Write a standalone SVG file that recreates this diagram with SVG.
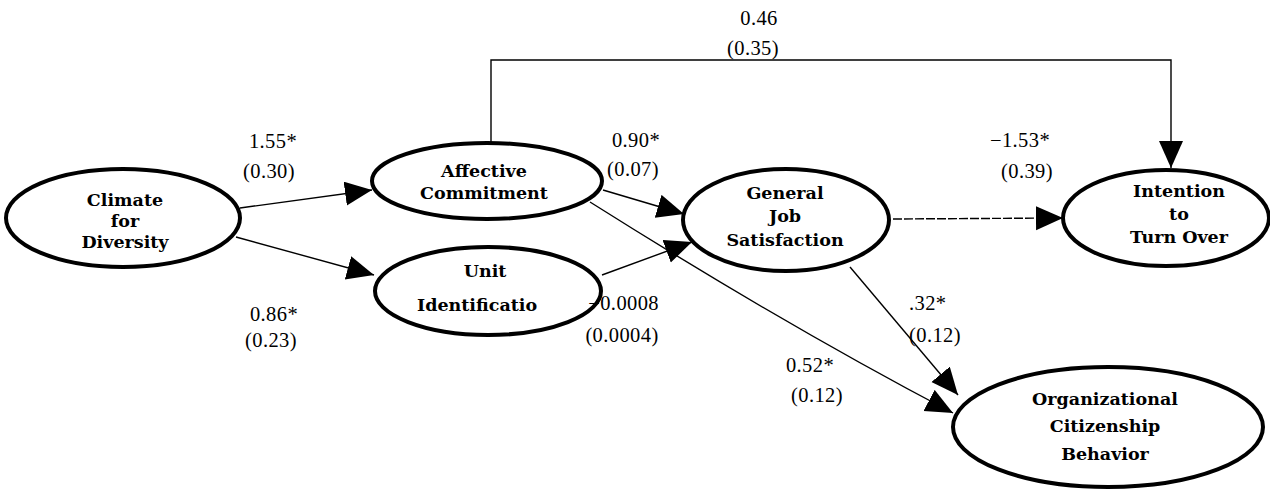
<svg xmlns="http://www.w3.org/2000/svg" width="1270" height="490" viewBox="0 0 1270 490">
<style>
.node{fill:#fff;stroke:#000;stroke-width:4}
.nt{font-family:"DejaVu Serif","Liberation Serif",serif;font-weight:bold;font-size:17.5px;text-anchor:middle;fill:#000}
.lb{font-family:"Liberation Serif","Times New Roman",serif;font-size:20.5px;letter-spacing:0.4px;text-anchor:middle;fill:#000}
.cn{fill:none;stroke:#000;stroke-width:1.4}
.dash{stroke-dasharray:9 2}
</style>
<defs>
<marker id="ah" markerUnits="userSpaceOnUse" markerWidth="28" markerHeight="26" refX="27" refY="12" orient="auto">
<path d="M0,0 L27,12 L0,24 z" fill="#000"/>
</marker>
</defs>
<rect width="1270" height="490" fill="#fff"/>
<g id="connectors">
<path class="cn" d="M240,208 L372,190" marker-end="url(#ah)"/>
<path class="cn" d="M236,237 L374,275" marker-end="url(#ah)"/>
<path class="cn" d="M603,190 L684,214" marker-end="url(#ah)"/>
<path class="cn" d="M602,275 L692,242" marker-end="url(#ah)"/>
<path class="cn" d="M590,202 Q785,325 953,413" marker-end="url(#ah)"/>
<path class="cn" d="M850,267 L958,395" marker-end="url(#ah)"/>
<path class="cn dash" d="M893,219 L1063,218" marker-end="url(#ah)"/>
<path class="cn" d="M491,143 L491,60 L1171,60 L1171,168" marker-end="url(#ah)"/>
</g>
<g id="climate">
<ellipse class="node" cx="123" cy="218" rx="117" ry="49"/>
<text class="nt" x="125" y="206">Climate</text>
<text class="nt" x="125" y="227">for</text>
<text class="nt" x="125" y="248">Diversity</text>
</g>
<g id="affective">
<ellipse class="node" cx="487" cy="181" rx="115" ry="38"/>
<text class="nt" x="484" y="177">Affective</text>
<text class="nt" x="484" y="199">Commitment</text>
</g>
<g id="unit">
<ellipse class="node" cx="488" cy="291" rx="113" ry="44"/>
<text class="nt" x="485" y="277">Unit</text>
<text class="nt" x="417" y="311" style="text-anchor:start">Identificatio</text>
</g>
<g id="gjs">
<ellipse class="node" cx="786" cy="220" rx="103" ry="51"/>
<text class="nt" x="785" y="199">General</text>
<text class="nt" x="785" y="222">Job</text>
<text class="nt" x="785" y="246">Satisfaction</text>
</g>
<g id="intention">
<ellipse class="node" cx="1166" cy="218" rx="103" ry="48"/>
<text class="nt" x="1179" y="197">Intention</text>
<text class="nt" x="1179" y="220">to</text>
<text class="nt" x="1179" y="243">Turn Over</text>
</g>
<g id="ocb">
<ellipse class="node" cx="1108" cy="427" rx="155" ry="60"/>
<text class="nt" x="1105" y="405">Organizational</text>
<text class="nt" x="1105" y="432">Citizenship</text>
<text class="nt" x="1105" y="460">Behavior</text>
</g>
<g id="labels">
<text class="lb" x="759" y="25">0.46</text>
<text class="lb" x="753" y="55">(0.35)</text>
<text class="lb" x="273" y="148">1.55*</text>
<text class="lb" x="269" y="178">(0.30)</text>
<text class="lb" x="274" y="321">0.86*</text>
<text class="lb" x="271" y="347">(0.23)</text>
<text class="lb" x="636" y="147">0.90*</text>
<text class="lb" x="633" y="176">(0.07)</text>
<text class="lb" x="1020" y="147">−1.53*</text>
<text class="lb" x="1027" y="178">(0.39)</text>
<text class="lb" x="659" y="310" style="text-anchor:end">−0.0008</text>
<text class="lb" x="622" y="342">(0.0004)</text>
<text class="lb" x="909" y="310" style="text-anchor:start">.32*</text>
<text class="lb" x="935" y="342">(0.12)</text>
<text class="lb" x="810" y="372">0.52*</text>
<text class="lb" x="817" y="402">(0.12)</text>
</g>
</svg>
